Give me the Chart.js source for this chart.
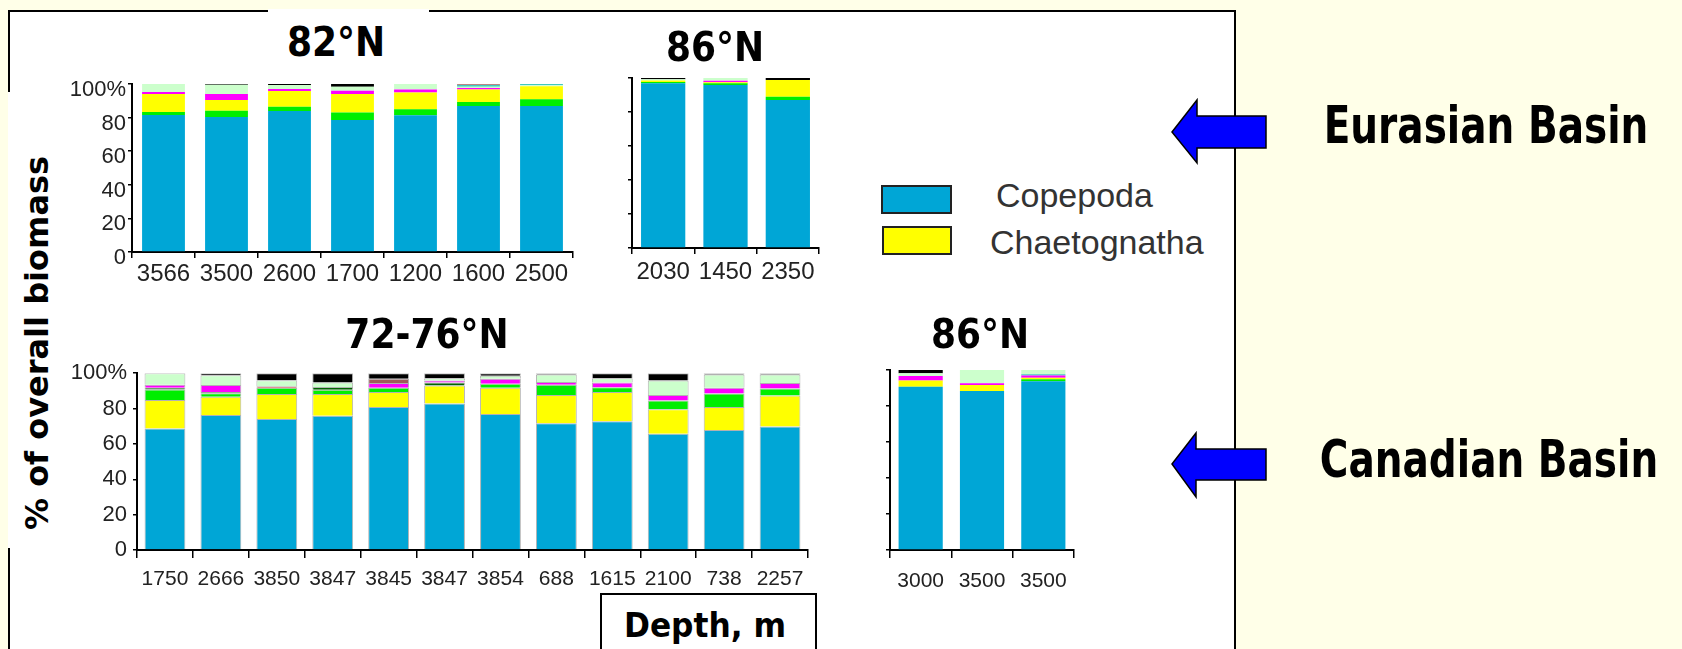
<!DOCTYPE html>
<html lang="en">
<head>
<meta charset="UTF-8">
<title>Zooplankton biomass composition</title>
<script src="https://cdn.jsdelivr.net/npm/chart.js"></script>
<style>
    body {
        margin: 0;
        width: 1682px;
        height: 649px;
        overflow: hidden;
        position: relative;
        background: #FFFFE8;
        font-family: 'Liberation Sans', Arial, sans-serif;
    }
    .abs { position: absolute; }
    .panel {
        left: 8px; top: 10px; width: 1228px; height: 680px;
        box-sizing: border-box;
        background: #fff;
        border: 2px solid #000;
        border-bottom: none;
    }
    .hand {
        position: absolute;
        font-family: 'DejaVu Sans', sans-serif;
        font-weight: bold;
        color: #000;
        line-height: 1;
        white-space: nowrap;
    }
    .legend-box {
        position: absolute;
        box-sizing: border-box;
        border: 2px solid #222;
    }
    .legend-text {
        position: absolute;
        font-size: 34px;
        line-height: 1;
        color: #333;
        white-space: nowrap;
    }
    canvas { position: absolute; }
</style>
</head>
<body>
<div class="abs panel"></div>
<!-- white boxes of pasted pieces hiding the frame -->
<div class="abs" style="left:268px; top:9px; width:161px; height:5px; background:#fff;"></div>
<div class="abs" style="left:8px; top:92px; width:4px; height:456px; background:#fff;"></div>

<canvas id="chart82N"></canvas>
<canvas id="chart86NE"></canvas>
<canvas id="chart72N"></canvas>
<canvas id="chart86NC"></canvas>

<div class="hand" style="left:336px; top:42px; font-size:40px; transform:translate(-50%,-50%) scaleX(0.9);">82°N</div>
<div class="hand" style="left:715px; top:47px; font-size:40px; transform:translate(-50%,-50%) scaleX(0.9);">86°N</div>
<div class="hand" style="left:427px; top:334px; font-size:40px; transform:translate(-50%,-50%) scaleX(0.9);">72-76°N</div>
<div class="hand" style="left:980px; top:334px; font-size:40px; transform:translate(-50%,-50%) scaleX(0.9);">86°N</div>

<div class="hand" style="left:37px; top:343px; font-size:32px; transform:translate(-50%,-50%) rotate(-90deg);">% of overall biomass</div>

<div class="abs" style="left:600px; top:593px; width:217px; height:80px; box-sizing:border-box; border:2px solid #000; background:#fff;"></div>
<div class="hand" style="left:705px; top:625px; font-size:34px; transform:translate(-50%,-50%) scaleX(0.92);">Depth, m</div>

<div class="legend-box" style="left:881px; top:185px; width:71px; height:29px; background:#00A6D6;"></div>
<div class="legend-box" style="left:882px; top:226px; width:70px; height:29px; background:#FFFF00;"></div>
<div class="legend-text" style="left:996px; top:178px;">Copepoda</div>
<div class="legend-text" style="left:990px; top:225px;">Chaetognatha</div>

<svg class="abs" style="left:0; top:0;" width="1682" height="649">
    <polygon points="1172,132 1197,100 1197,116 1266,116 1266,148 1197,148 1197,163"
             fill="#0000FF" stroke="#000" stroke-width="1.5"/>
    <polygon points="1172,464 1196,433 1196,449 1266,449 1266,480 1196,480 1196,497"
             fill="#0000FF" stroke="#000" stroke-width="1.5"/>
</svg>
<div class="hand" style="left:1486px; top:125px; font-size:52px; transform:translate(-50%,-50%) scaleX(0.75);">Eurasian Basin</div>
<div class="hand" style="left:1489px; top:459px; font-size:52px; transform:translate(-50%,-50%) scaleX(0.75);">Canadian Basin</div>

<script>
    const yTickLabels = ['0', '20', '40', '60', '80', '100%'];

    // Eurasian Basin, 82°N
    const depths82N = ['3566', '3500', '2600', '1700', '1200', '1600', '2500'];
    const copepoda82N = [81.5, 80.4, 84.0, 78.6, 81.4, 86.9, 86.9];
    const green82N = [1.8, 3.7, 2.5, 4.4, 3.6, 2.4, 4.0];
    const chaetognatha82N = [10.7, 6.4, 9.3, 11.0, 10.0, 7.5, 7.7];
    const magenta82N = [1.2, 3.5, 1.2, 2.0, 1.8, 0.8, 0];
    const lightGreen82N = [4.8, 5.6, 2.4, 2.4, 3.2, 0.8, 0.6];
    const teal82N = [0, 0, 0, 0, 0, 1.1, 0.8];
    const red82N = [0, 0, 0, 0, 0, 0.5, 0];
    const black82N = [0, 0.4, 0.6, 1.6, 0, 0, 0];

    // Eurasian Basin, 86°N
    const depths86NE = ['2030', '1450', '2350'];
    const copepoda86NE = [96.9, 95.9, 87.1];
    const green86NE = [0.8, 1.0, 1.9];
    const chaetognatha86NE = [0.8, 0.6, 9.8];
    const magenta86NE = [0, 0.9, 0];
    const lightGreen86NE = [0.8, 1.6, 0];
    const black86NE = [0.7, 0, 1.2];

    // Canadian Basin, 72-76°N
    const depths72N = ['1750', '2666', '3850', '3847', '3845', '3847', '3854', '688', '1615', '2100', '738', '2257'];
    const copepoda72N = [68.7, 76.3, 74.1, 75.9, 80.9, 82.8, 76.9, 71.7, 72.8, 65.7, 67.9, 69.8];
    const chaetognatha72N = [16.1, 10.4, 14.2, 12.4, 8.4, 10.3, 14.8, 15.9, 16.5, 13.9, 13.0, 17.6];
    const green72N = [6.0, 1.9, 3.4, 2.4, 2.4, 0, 2.4, 5.9, 2.7, 5.0, 7.6, 3.9];
    const darkGreen72N = [1.0, 0.7, 0, 1.5, 0, 1.7, 0, 0, 0, 0, 0, 0];
    const magenta72N = [1.7, 4.0, 0, 0, 2.7, 1.1, 2.8, 1.5, 2.8, 3.0, 3.2, 3.1];
    const red72N = [0, 0, 0.9, 0, 0, 0, 0, 0, 0, 0, 0, 0];
    const brown72N = [0, 0, 0, 0, 2.5, 0, 0, 0, 0, 0, 0, 0];
    const lightGreen72N = [6.5, 5.5, 3.4, 2.6, 0, 1.3, 1.6, 4.2, 2.4, 8.3, 7.5, 4.8];
    const black72N = [0, 1.2, 4.0, 5.2, 3.1, 2.8, 1.5, 0.8, 2.8, 4.1, 0.8, 0.8];

    // Canadian Basin, 86°N
    const depths86NC = ['3000', '3500', '3500'];
    const copepoda86NC = [90.7, 88.3, 93.7];
    const green86NC = [0, 0, 1.1];
    const chaetognatha86NC = [3.4, 3.4, 0.9];
    const magenta86NC = [2.6, 0.9, 1.2];
    const teal86NC = [0, 0, 0.8];
    const lightGreen86NC = [1.5, 7.4, 2.3];
    const black86NC = [1.8, 0, 0];

    const seriesColors = {
        copepoda: '#00A6D6', chaetognatha: '#FFFF00', green: '#00EE00', darkGreen: '#006400',
        magenta: '#FF00FF', red: '#D94040', brown: '#A05A5A', lightGreen: '#CCFFCC',
        teal: '#40C8C0', black: '#000000'
    };
    const seriesNames = {
        copepoda: 'Copepoda', chaetognatha: 'Chaetognatha', green: 'other (green)',
        darkGreen: 'other (dark green)', magenta: 'other (magenta)', red: 'other (red)',
        brown: 'other (brown)', lightGreen: 'other (light green)', teal: 'other (teal)', black: 'other (black)'
    };

    Chart.defaults.font.family = "'Liberation Sans', Arial, sans-serif";

    // area = pixel box of the plot area on the page
    function makeChart(id, area, labels, series, o) {
        const padT = 16, padR = 6;
        const cv = document.getElementById(id);
        const w = o.yW + (area.right - area.left) + padR;
        const h = padT + (area.bottom - area.top) + o.xH;
        cv.width = w; cv.height = h;
        cv.style.width = w + 'px'; cv.style.height = h + 'px';
        cv.style.left = (area.left - o.yW) + 'px';
        cv.style.top = (area.top - padT) + 'px';

        return new Chart(cv, {
            type: 'bar',
            data: {
                labels: labels,
                datasets: series.map(([key, values]) => ({
                    label: seriesNames[key],
                    data: values,
                    backgroundColor: seriesColors[key],
                    borderColor: 'rgba(0,0,0,0.3)',
                    borderWidth: o.border ? 1 : 0,
                    barPercentage: o.barPct,
                    categoryPercentage: 1
                }))
            },
            options: {
                responsive: false,
                animation: false,
                layout: { padding: { top: padT, right: padR, left: 0, bottom: 0 } },
                plugins: { legend: { display: false }, tooltip: { enabled: false } },
                scales: {
                    x: {
                        stacked: true,
                        grid: { drawOnChartArea: false, drawTicks: true, tickLength: o.xTick, color: '#000', lineWidth: 1.5, offset: true },
                        border: { color: '#000', width: 2 },
                        ticks: { color: '#222', font: { size: o.xFont }, padding: o.xPad, maxRotation: 0, autoSkip: false },
                        afterFit: s => { s.height = o.xH; }
                    },
                    y: {
                        stacked: true,
                        min: 0,
                        max: 100,
                        grid: { drawOnChartArea: false, drawTicks: true, tickLength: 4, color: '#000', lineWidth: 1.5 },
                        border: { color: '#000', width: 2 },
                        ticks: {
                            stepSize: 20,
                            color: '#222',
                            font: { size: 22 },
                            padding: o.yPad,
                            labelOffset: o.yOff || 0,
                            callback: (v, i) => o.showY ? yTickLabels[i] : ''
                        },
                        afterFit: s => { s.width = o.yW; }
                    }
                }
            }
        });
    }

    makeChart('chart82N', { left: 132, right: 573, top: 84, bottom: 252 }, depths82N, [
        ['copepoda', copepoda82N], ['green', green82N], ['chaetognatha', chaetognatha82N],
        ['magenta', magenta82N], ['lightGreen', lightGreen82N], ['teal', teal82N],
        ['red', red82N], ['black', black82N]
    ], { yW: 68, xH: 48, xTick: 6, xPad: 2, xFont: 24, yPad: 2, yOff: 6, showY: true, barPct: 0.68, border: false });

    makeChart('chart86NE', { left: 632, right: 819, top: 78, bottom: 248 }, depths86NE, [
        ['copepoda', copepoda86NE], ['green', green86NE], ['chaetognatha', chaetognatha86NE],
        ['magenta', magenta86NE], ['lightGreen', lightGreen86NE], ['black', black86NE]
    ], { yW: 10, xH: 48, xTick: 6, xPad: 4, xFont: 24, yPad: 0, showY: false, barPct: 0.71, border: false });

    makeChart('chart72N', { left: 137, right: 808, top: 370, bottom: 550 }, depths72N, [
        ['copepoda', copepoda72N], ['chaetognatha', chaetognatha72N], ['green', green72N],
        ['darkGreen', darkGreen72N], ['magenta', magenta72N], ['red', red72N], ['brown', brown72N],
        ['lightGreen', lightGreen72N], ['black', black72N]
    ], { yW: 72, xH: 50, xTick: 8, xPad: 9, xFont: 21, yPad: 6, showY: true, barPct: 0.73, border: true });

    makeChart('chart86NC', { left: 890, right: 1074, top: 370, bottom: 550 }, depths86NC, [
        ['copepoda', copepoda86NC], ['green', green86NC], ['chaetognatha', chaetognatha86NC],
        ['magenta', magenta86NC], ['teal', teal86NC], ['lightGreen', lightGreen86NC], ['black', black86NC]
    ], { yW: 10, xH: 50, xTick: 8, xPad: 11, xFont: 21, yPad: 0, showY: false, barPct: 0.72, border: false });
</script>
</body>
</html>
